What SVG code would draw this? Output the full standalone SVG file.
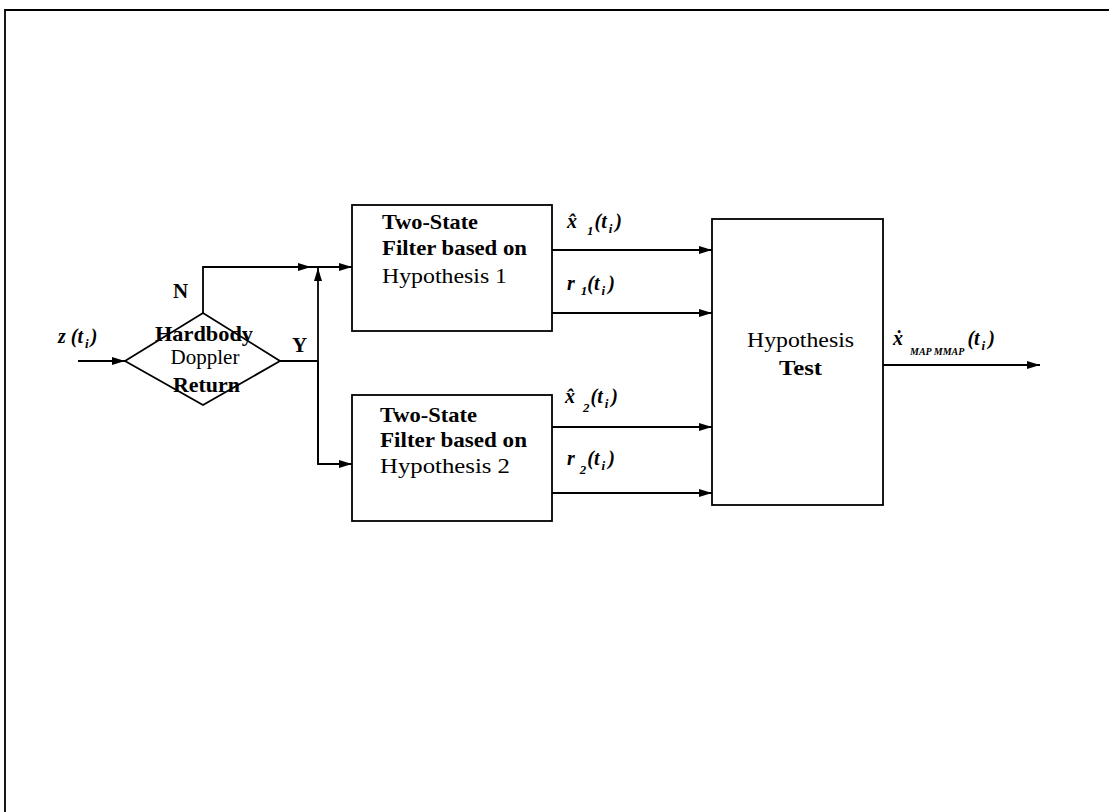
<svg xmlns="http://www.w3.org/2000/svg" width="1109" height="812" viewBox="0 0 1109 812">
<style>
.ln{stroke:#000;stroke-width:1.8;fill:none}
.box{stroke:#000;stroke-width:1.8;fill:#fff}
.t{font-family:"Liberation Serif","Times New Roman",serif;font-size:21px;fill:#000}
.m{font-family:"Liberation Serif","Times New Roman",serif;font-size:20px;font-style:italic;font-weight:bold;fill:#000}
.s{font-size:13px}
.b{font-weight:bold}
</style>
<defs>
<marker id="ah" markerWidth="14" markerHeight="10" refX="13" refY="5" orient="auto" markerUnits="userSpaceOnUse">
<path d="M0,1 L13,5 L0,9 Z" fill="#000"/>
</marker>
</defs>
<rect width="1109" height="812" fill="#fff"/>
<g id="frame">
<path class="ln" d="M5,812 L5,10 L1109,10" stroke-width="2.2"/>
</g>
<g id="connectors">
<path class="ln" d="M78,361 L125,361" marker-end="url(#ah)"/>
<path class="ln" d="M203,313 L203,267 L311,267" marker-end="url(#ah)"/>
<path class="ln" d="M311,267 L352,267" marker-end="url(#ah)"/>
<path class="ln" d="M280,361 L318,361"/>
<path class="ln" d="M318,464 L318,268" marker-end="url(#ah)"/>
<path class="ln" d="M318,361 L318,464 L352,464" marker-end="url(#ah)"/>
<path class="ln" d="M552,250 L712,250" marker-end="url(#ah)"/>
<path class="ln" d="M552,313 L712,313" marker-end="url(#ah)"/>
<path class="ln" d="M552,427 L712,427" marker-end="url(#ah)"/>
<path class="ln" d="M552,493 L712,493" marker-end="url(#ah)"/>
<path class="ln" d="M883,365 L1040,365" marker-end="url(#ah)"/>
</g>
<g id="decision">
<path class="box" d="M125,361 L203,313 L280,361 L203,405 Z"/>
<text class="t b" x="155" y="341" textLength="98" lengthAdjust="spacingAndGlyphs">Hardbody</text>
<text class="t" x="205" y="364" text-anchor="middle">Doppler</text>
<text class="t b" x="173" y="392" textLength="67" lengthAdjust="spacingAndGlyphs">Return</text>
</g>
<g id="labels">
<text class="m" x="58" y="343">z (t<tspan class="s" dx="2" dy="5">i</tspan><tspan dx="2" dy="-5">)</tspan></text>
<text class="t b" x="173" y="298">N</text>
<text class="t b" x="292" y="352">Y</text>
</g>
<g id="filter1">
<rect class="box" x="352" y="205" width="200" height="126"/>
<text class="t b" x="382" y="229" textLength="96" lengthAdjust="spacingAndGlyphs">Two-State</text>
<text class="t b" x="382" y="255" textLength="145" lengthAdjust="spacingAndGlyphs">Filter based on</text>
<text class="t" x="382" y="283" textLength="125" lengthAdjust="spacingAndGlyphs">Hypothesis 1</text>
</g>
<g id="filter2">
<rect class="box" x="352" y="395" width="200" height="126"/>
<text class="t b" x="380" y="422" textLength="97" lengthAdjust="spacingAndGlyphs">Two-State</text>
<text class="t b" x="380" y="447" textLength="147" lengthAdjust="spacingAndGlyphs">Filter based on</text>
<text class="t" x="380" y="473" textLength="130" lengthAdjust="spacingAndGlyphs">Hypothesis 2</text>
</g>
<g id="hyptest">
<rect class="box" x="712" y="219" width="171" height="286"/>
<text class="t" x="747" y="347" textLength="107" lengthAdjust="spacingAndGlyphs">Hypothesis</text>
<text class="t b" x="779" y="375" textLength="43" lengthAdjust="spacingAndGlyphs">Test</text>
</g>
<g id="signal-labels">
<text class="m" x="567" y="228">x̂<tspan class="s" dx="10" dy="7">1</tspan><tspan dx="1" dy="-7">(t</tspan><tspan class="s" dx="2" dy="5">i</tspan><tspan dx="3" dy="-5">)</tspan></text>
<text class="m" x="567" y="290">r<tspan class="s" dx="6" dy="5">1</tspan><tspan dy="-5">(t</tspan><tspan class="s" dx="2" dy="5">i</tspan><tspan dx="3" dy="-5">)</tspan></text>
<text class="m" x="565" y="403">x̂<tspan class="s" dx="8" dy="9">2</tspan><tspan dx="1" dy="-9">(t</tspan><tspan class="s" dx="2" dy="5">i</tspan><tspan dx="3" dy="-5">)</tspan></text>
<text class="m" x="567" y="465">r<tspan class="s" dx="5" dy="9">2</tspan><tspan dx="1" dy="-9">(t</tspan><tspan class="s" dx="2" dy="5">i</tspan><tspan dx="3" dy="-5">)</tspan></text>
<text class="m" x="893" y="345">ẋ<tspan style="font-size:10px" dx="7" dy="10">MAP MMAP</tspan><tspan dx="3" dy="-10">(t</tspan><tspan class="s" dx="2" dy="5">i</tspan><tspan dx="3" dy="-5">)</tspan></text>
</g>
</svg>
